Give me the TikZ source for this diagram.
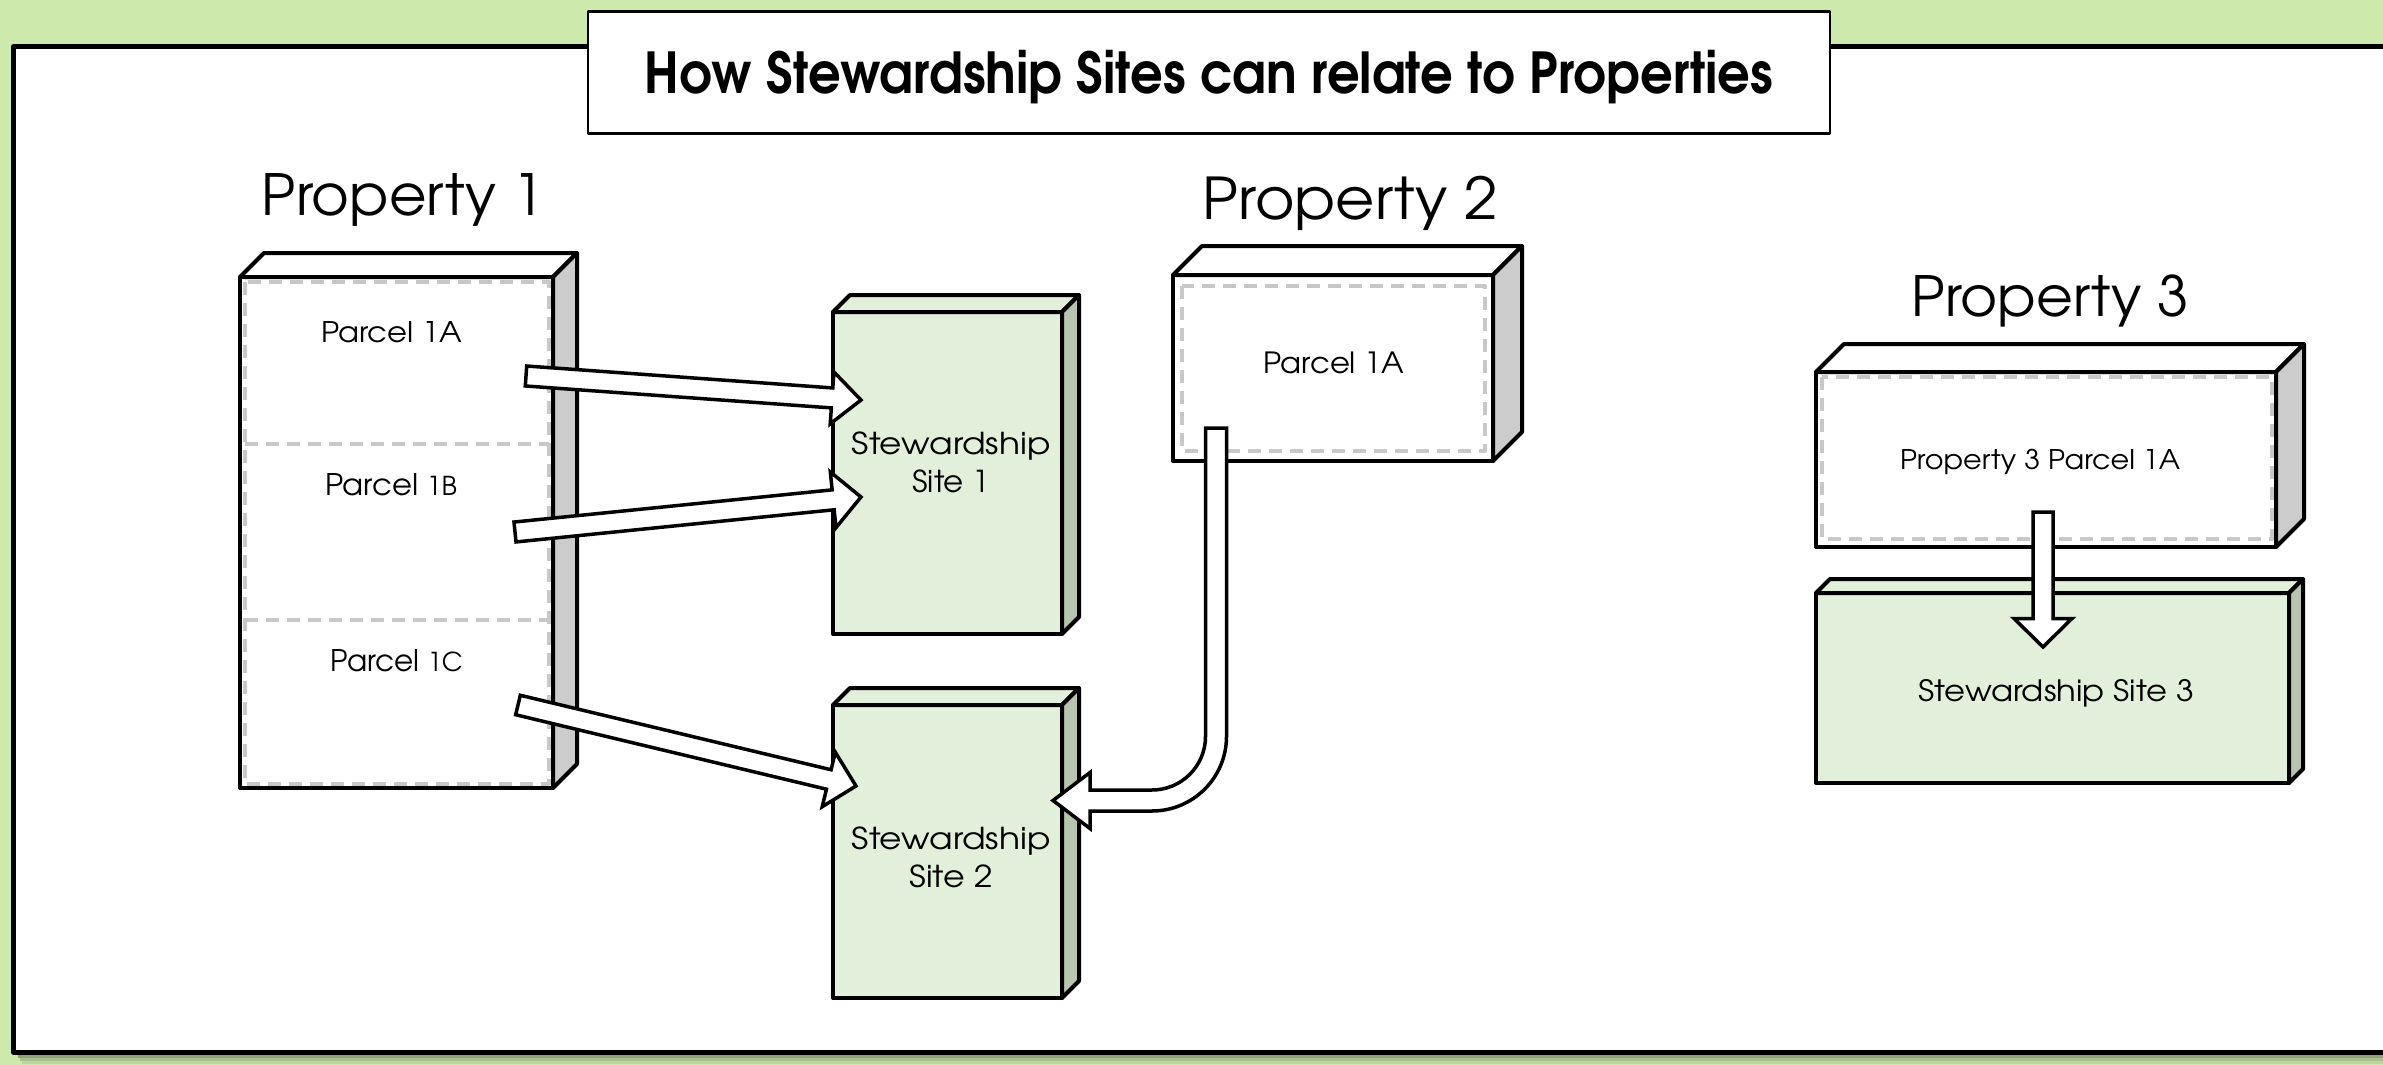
\documentclass[tikz,border=0pt]{standalone}
\usepackage{fontspec}
\usepackage{graphicx}
\setmainfont{texgyreadventor}[Extension=.otf, UprightFont=*-regular, BoldFont=*-bold, ItalicFont=*-italic, BoldItalicFont=*-bolditalic]
\usetikzlibrary{calc,fit}

\definecolor{bggreen}{RGB}{205,233,172}
\definecolor{sitefill}{RGB}{226,239,218}
\definecolor{siteside}{RGB}{183,196,175}
\definecolor{propside}{RGB}{204,204,204}
\definecolor{dashgray}{RGB}{200,200,200}

% text scaled to a given ink width and cap height; the box is as tall as a capital
\newcommand\fitted[3]{\resizebox{#1}{#2}{\vphantom{H}\smash{#3}}}

% a 3D slab: front face node #1 between corners #2 and #3, depth #4,
% front/top fill #5, side fill #6
\newcommand\slab[6]{%
  \node[slabfront, fill=#5, fit={#2 #3}] (#1) {};
  \filldraw[edge, fill=#5] (#1.north west) -- ++(#4,-#4) -- ($(#1.north east)+(#4,-#4)$) -- (#1.north east) -- cycle;
  \filldraw[edge, fill=#6] (#1.north east) -- ++(#4,-#4) -- ($(#1.south east)+(#4,-#4)$) -- (#1.south east) -- cycle;
}

% straight block arrow from #1 to #2: half shaft #3, half head #4, head length #5
\newcommand\blockarrow[5]{%
  \coordinate (ba-c) at ($(#2)!#5!(#1)$);
  \draw[arrowbody] ($(#1)!#3!90:(#2)$) -- ($(ba-c)!#3!90:(#2)$) -- ($(ba-c)!#4!90:(#2)$)
    -- (#2) -- ($(ba-c)!#4!-90:(#2)$) -- ($(ba-c)!#3!-90:(#2)$) -- ($(#1)!#3!-90:(#2)$) -- cycle;
}

\tikzset{
  edge/.style={draw=black, line width=4pt},
  slabfront/.style={edge, inner sep=0pt, outer sep=0pt},
  parceldash/.style={draw=dashgray, line width=4pt, dash pattern=on 13pt off 8pt},
  bigtext/.style={inner sep=0pt, font=\fontsize{56}{60}\selectfont},
  smalltext/.style={inner sep=0pt, font=\fontsize{28}{32}\selectfont},
  sitetext/.style={inner sep=0pt, align=center, font=\fontsize{30}{38}\selectfont},
  arrowbody/.style={draw=black, fill=white, line width=3.5pt, line join=miter},
}

\begin{document}
\begin{tikzpicture}[x=1pt, y=-1pt, line join=round]
\useasboundingbox (0,0) rectangle (2383,1065);
\fill[bggreen] (0,0) rectangle (2383,1065);

% soft shadow under the panel
\fill[black, opacity=0.30] (18,1054) rectangle (2400,1058);
\fill[black, opacity=0.18] (20,1058) rectangle (2400,1061);
\fill[black, opacity=0.08] (22,1061) rectangle (2400,1064);

% white panel
\draw[line width=5pt, fill=white] (13.5,46.5) rectangle (2400,1052);

% title
\node[draw, line width=2.5pt, fill=white, inner sep=0pt, outer sep=0pt,
      minimum width=1242pt, minimum height=122pt] (title) at (1209,72.6)
  {\bfseries\fontsize{56}{60}\selectfont\fitted{1128pt}{41.7pt}{How Stewardship Sites can relate to Properties}};

% property headings
\node[bigtext] (prop1) at (403,194) {\fitted{282pt}{42pt}{Property 1}};
\node[bigtext] (prop2) at (1350.4,198) {\fitted{295pt}{42.6pt}{Property 2}};
\node[bigtext] (prop3) at (2050,295.5) {\fitted{277pt}{41pt}{Property 3}};

% Property 1 with three parcels
\slab{p1}{(240,277)}{(553,788)}{24}{white}{propside}
\draw[parceldash] ($(p1.north west)+(4.5,4.5)$) rectangle ($(p1.south east)+(-4.5,-4.5)$);
\draw[parceldash] ($(p1.north west)+(4.5,167)$) -- ($(p1.north east)+(-4.5,167)$);
\draw[parceldash] ($(p1.north west)+(4.5,342.6)$) -- ($(p1.north east)+(-4.5,342.6)$);
\node[smalltext] (p1a) at (391.5,331.5) {\fitted{141pt}{21pt}{Parcel 1A}};
\node[smalltext] (p1b) at (391,484) {\fitted{132pt}{22pt}{Parcel {\fontsize{24.5}{28}\selectfont 1B}}};
\node[smalltext] (p1c) at (396.5,660) {\fitted{133pt}{22pt}{Parcel {\fontsize{24.5}{28}\selectfont 1C}}};

% Property 2 with one parcel
\slab{p2}{(1173,275)}{(1493,461)}{29}{white}{propside}
\draw[parceldash] ($(p2.north west)+(9,11)$) rectangle ($(p2.south east)+(-8,-10)$);
\node[smalltext] (p2a) at (1333.7,362.5) {\fitted{141pt}{21.6pt}{Parcel 1A}};

% Property 3 with one parcel
\slab{p3}{(1816,372)}{(2276,547)}{28}{white}{propside}
\draw[parceldash] ($(p3.north west)+(6,5)$) rectangle ($(p3.south east)+(-4,-8)$);
\node[smalltext] (p3a) at (2040,459) {\fitted{280pt}{20pt}{Property 3 Parcel 1A}};

% stewardship sites
\slab{s1}{(833,312)}{(1062,634)}{17}{sitefill}{siteside}
\node[sitetext] (s1t) at (951,462.7) {\fitted{199pt}{22.3pt}{Stewardship}\\\fitted{77pt}{22.3pt}{Site 1}};

\slab{s2}{(833,705)}{(1062,998)}{17}{sitefill}{siteside}
\node[sitetext] (s2t) at (951,857) {\fitted{199pt}{22.3pt}{Stewardship}\\\fitted{83pt}{22.3pt}{Site 2}};

\slab{s3}{(1816,593)}{(2289,783)}{14}{sitefill}{siteside}
\node[smalltext] (s3t) at (2056,691) {\fitted{276pt}{21.7pt}{Stewardship Site 3}};

% arrows from parcels to sites
\coordinate (a1s) at (526,376);   \coordinate (a1e) at (861,400);
\coordinate (a2s) at (515,532);   \coordinate (a2e) at (861,497);
\coordinate (a3s) at (518,705);   \coordinate (a3e) at (856,786);
\coordinate (a5s) at (2043,512);  \coordinate (a5e) at (2043,647);
\blockarrow{a1s}{a1e}{10pt}{26pt}{29pt}
\blockarrow{a2s}{a2e}{10pt}{28pt}{28pt}
\blockarrow{a3s}{a3e}{10pt}{28pt}{28pt}
\blockarrow{a5s}{a5e}{10pt}{29pt}{28.5pt}

% bent arrow from Property 2 down and left into Site 2
\coordinate (a4s) at (1216,428);
\coordinate (a4e) at (1053,800.5);
\draw[arrowbody]
  ($(a4s)+(-10.5,0)$) -- ($(a4s)+(10.5,0)$) -- (1226.5,736.5)
  .. controls (1226.5,777.6) and (1193.1,811) .. (1152,811)
  -- ($(a4e)+(37,10.5)$) -- ($(a4e)+(37,28)$) -- (a4e) -- ($(a4e)+(37,-28)$) -- ($(a4e)+(37,-10.5)$)
  -- (1152,790) .. controls (1181.5,790) and (1205.5,766) .. (1205.5,736.5) -- cycle;
\end{tikzpicture}
\end{document}
